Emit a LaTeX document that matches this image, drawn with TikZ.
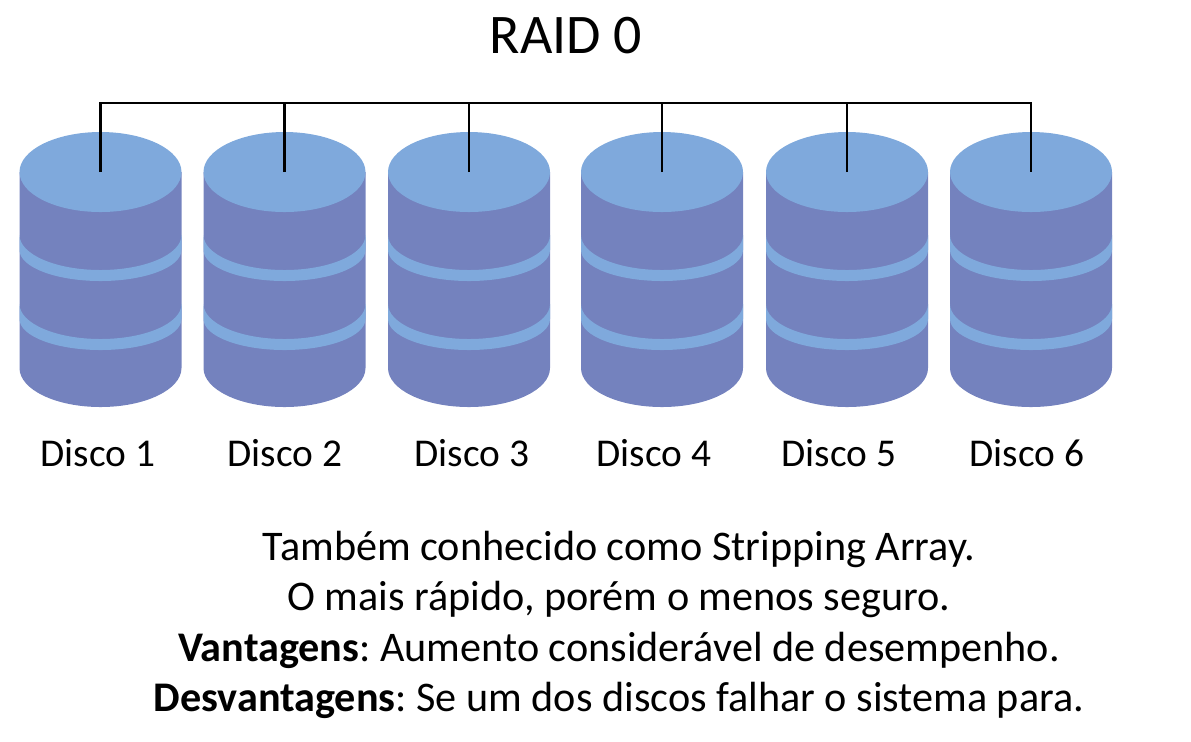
\documentclass[tikz,border=0pt]{standalone}
\usepackage{fontspec}
\setmainfont{Carlito}
\definecolor{diskbody}{HTML}{7482BE}
\definecolor{disktop}{HTML}{7FA9DC}
\tikzset{
    titletext/.style={font=\fontsize{15.9}{19}\selectfont},
    disklabel/.style={font=\fontsize{11.2}{13}\selectfont},
    infotext/.style={font=\fontsize{12}{14}\selectfont},
    busline/.style={draw=black,line width=0.7pt}
}
\frenchspacing
\begin{document}
\begin{tikzpicture}[x=0.01cm,y=0.01cm]
    \useasboundingbox (0,-741) rectangle (1191,0);
    \foreach \x/\n in {100.5/1,284.5/2,469/3,662/4,847/5,1031/6} {
        \fill[diskbody] (\x-81,-172) -- (\x-81,-368) arc[start angle=180,end angle=360,x radius=81,y radius=39] -- (\x+81,-172) -- cycle;
        \foreach \b in {0,69} {
            \fill[disktop] (\x-81,-235-\b) arc[start angle=180,end angle=360,x radius=81,y radius=35]
                -- (\x+81,-250-\b) arc[start angle=0,end angle=-180,x radius=81,y radius=31] -- cycle;
        }
        \fill[disktop] (\x,-172) ellipse[x radius=81,y radius=40];
        \coordinate (hub\n) at (\x,-172);
        \coordinate (bus\n) at (\x,-103);
    }
    \node[titletext] (title) at (566,-36) {RAID 0};
    \node[disklabel] (disco1) at (98,-453) {Disco 1};
    \node[disklabel] (disco2) at (285,-453) {Disco 2};
    \node[disklabel] (disco3) at (472,-453) {Disco 3};
    \node[disklabel] (disco4) at (654,-453) {Disco 4};
    \node[disklabel] (disco5) at (839,-453) {Disco 5};
    \node[disklabel] (disco6) at (1027,-453) {Disco 6};
    \node[infotext] (line1) at (619,-549) {Também conhecido como Stripping Array.};
    \node[infotext] (line2) at (619,-599) {O mais rápido, porém o menos seguro.};
    \node[infotext] (line3) at (619,-650) {\textbf{Vantagens}: Aumento considerável de desempenho.};
    \node[infotext] (line4) at (619,-700) {\textbf{Desvantagens}: Se um dos discos falhar o sistema para.};
    \draw[busline] (hub1) -- (bus1) -- (bus6) -- (hub6);
    \foreach \n in {2,3,4,5} {
        \draw[busline] (hub\n) -- (bus\n);
    }
\end{tikzpicture}
\end{document}
